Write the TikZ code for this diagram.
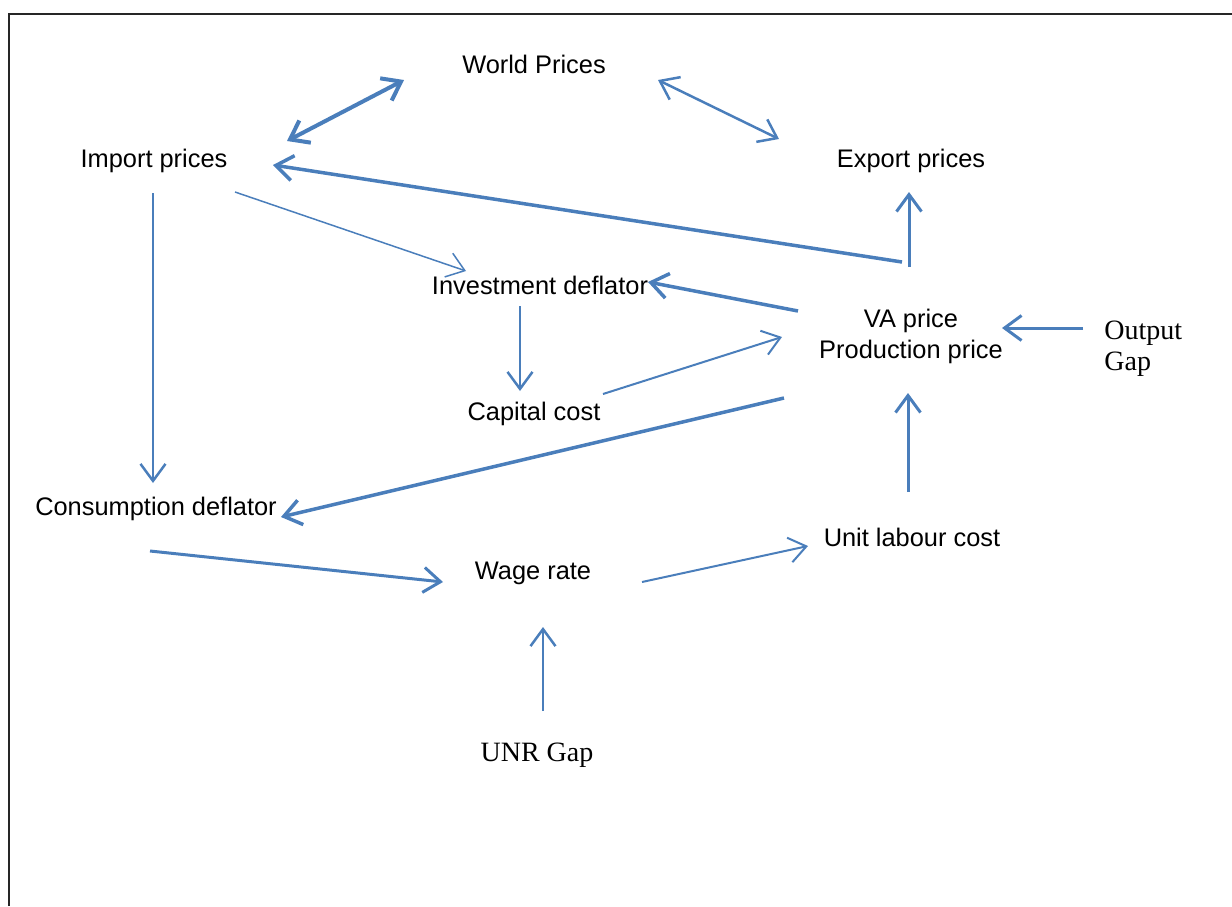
\documentclass[tikz,border=0pt]{standalone}
\usepackage{fontspec}
\setmainfont{Liberation Sans}
\newfontfamily\serifgap{Liberation Serif}
\usetikzlibrary{arrows.meta}
\definecolor{arrblue}{RGB}{74,126,187}
\begin{document}
\begin{tikzpicture}[x=0.5pt,y=-0.5pt,
  lbl/.style={inner sep=0pt,font=\fontsize{12.7}{15.5}\selectfont,align=center},
  slbl/.style={inner sep=0pt,font=\serifgap\fontsize{14}{15.5}\selectfont,align=left},
  arr/.style={draw=arrblue,-{Straight Barb[length=8.5pt,width=12.5pt]}},
  darr/.style={draw=arrblue,{Straight Barb[length=8.5pt,width=12.5pt]}-{Straight Barb[length=8.5pt,width=12.5pt]}},
  w4/.style={line width=2pt},
  w35/.style={line width=1.75pt},
  w3/.style={line width=1.5pt},
  w25/.style={line width=1.25pt},
  w2/.style={line width=1pt},
  w15/.style={line width=0.75pt}]
\useasboundingbox (0,0) rectangle (1232,906);
\draw[line width=1pt,black!85] (9,906) -- (9,14) -- (1232,14);

\node[lbl] (world) at (534,64) {World Prices};
\node[lbl] (import) at (154,161) {Import prices};
\node[lbl] (export) at (911,161) {Export prices};
\node[lbl] (inv) at (540,285) {Investment deflator};
\node[lbl] (va) at (911,336) {VA price\\Production price};
\node[slbl,anchor=west] (outgap) at (1104,349) {Output\\Gap};
\node[lbl] (capital) at (534,414) {Capital cost};
\node[lbl] (cons) at (156,509) {Consumption deflator};
\node[lbl] (wage) at (533,573) {Wage rate};
\node[lbl] (ulc) at (912,537) {Unit labour cost};
\node[slbl] (unr) at (537,755) {UNR Gap};

\draw[darr,w4] ([shift={(133,-20)}]import.center) -- ([shift={(-130,16)}]world.center);
\draw[darr,w25] ([shift={(124,16)}]world.center) -- ([shift={(-132,-22)}]export.center);
\draw[arr,w35] ([shift={(-9,-74)}]va.center) -- ([shift={(119,4)}]import.center);
\draw[arr,w3] ([shift={(-2,-69)}]va.center) -- ([shift={(-2,31)}]export.center);
\draw[arr,w15] ([shift={(81,31)}]import.center) -- ([shift={(-74,-14)}]inv.center);
\draw[arr,w25] ([shift={(-1,32)}]import.center) -- ([shift={(-3,-26)}]cons.center);
\draw[arr,w35] ([shift={(-113,-25)}]va.center) -- ([shift={(108,-3)}]inv.center);
\draw[arr,w25] ([shift={(-20,21)}]inv.center) -- ([shift={(-14,-23)}]capital.center);
\draw[arr,w2] ([shift={(69,-20)}]capital.center) -- ([shift={(-129,1)}]va.center);
\draw[arr,w35] ([shift={(-127,62)}]va.center) -- ([shift={(125,8)}]cons.center);
\draw[arr,w3] ([shift={(-21,-21)}]outgap.west) -- ([shift={(91,-8)}]va.center);
\draw[arr,w3] ([shift={(-4,-45)}]ulc.center) -- ([shift={(-3,57)}]va.center);
\draw[arr,w3] ([shift={(-6,42)}]cons.center) -- ([shift={(-90,9)}]wage.center);
\draw[arr,w2] ([shift={(109,9)}]wage.center) -- ([shift={(-104,9)}]ulc.center);
\draw[arr,w25] ([shift={(6,-44)}]unr.center) -- ([shift={(10,54)}]wage.center);
\end{tikzpicture}
\end{document}
